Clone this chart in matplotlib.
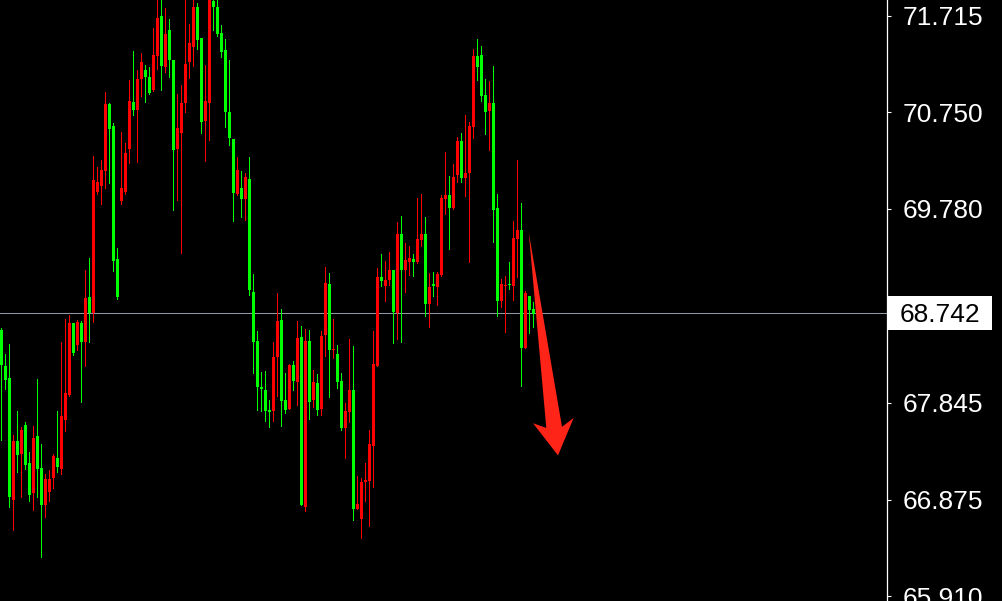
import matplotlib
matplotlib.use("Agg")
import matplotlib.pyplot as plt
from matplotlib.patches import Polygon, Rectangle
import numpy as np

opens = [68.22, 68.07, 66.90, 67.46, 67.32, 67.57, 67.22, 66.92, 67.49, 67.18,
         66.82, 67.08, 67.08, 67.31, 67.20, 67.71, 67.94, 68.64, 68.34, 68.65,
         68.45, 68.89, 68.74, 70.07, 70.05, 70.17, 70.83, 70.58, 69.26, 68.90,
         69.99, 70.34, 70.86, 70.77, 71.08, 71.25, 71.10, 70.94, 71.32, 71.69,
         71.21, 71.53, 71.27, 70.37, 70.59, 70.84, 71.23, 71.44, 71.80, 71.47,
         70.65, 70.86, 71.87, 71.80, 71.53, 71.35, 70.75, 70.49, 69.94, 70.17,
         69.88, 70.10, 68.97, 68.45, 68.00, 67.98, 67.76, 67.75, 68.30, 68.66,
         67.86, 67.77, 68.22, 68.06, 68.49, 66.82, 68.46, 67.85, 68.05, 67.77,
         68.51, 69.04, 68.37, 68.38, 68.05, 67.59, 67.76, 67.97, 66.78, 66.83,
         67.05, 67.07, 67.43, 68.23, 69.10, 69.06, 69.07, 69.17, 68.75, 69.53,
         69.17, 69.27, 69.29, 69.25, 69.48, 69.53, 68.83, 69.00, 69.01, 69.13,
         69.89, 69.92, 69.79, 70.10, 70.46, 70.09, 70.14, 70.61, 71.31, 71.20,
         70.91, 70.75, 70.84, 69.77, 68.86, 69.03, 69.02, 69.02, 69.49, 69.57,
         68.39, 68.94, 68.77, 68.73]

highs = [68.59, 68.33, 68.43, 67.52, 67.76, 67.60, 67.65, 67.35, 67.61, 68.08,
         67.43, 67.13, 67.17, 67.33, 67.76, 68.45, 68.68, 68.72, 68.64, 68.67,
         68.66, 69.17, 69.29, 70.31, 70.20, 70.27, 70.95, 70.84, 70.64, 69.39,
         70.55, 70.44, 71.07, 71.36, 71.17, 71.34, 71.22, 71.20, 71.59, 71.88,
         71.88, 71.79, 71.68, 71.27, 70.93, 71.02, 71.87, 71.63, 71.88, 71.84,
         71.49, 71.22, 71.89, 71.89, 71.87, 71.62, 71.48, 71.27, 70.48, 70.30,
         70.16, 70.14, 70.30, 69.13, 68.56, 68.15, 68.16, 67.87, 68.45, 68.94,
         68.78, 68.14, 68.23, 68.26, 68.66, 68.61, 68.58, 68.57, 68.17, 68.13,
         68.56, 69.20, 69.14, 68.68, 68.42, 68.14, 67.84, 68.48, 68.41, 67.11,
         67.09, 67.24, 67.57, 68.56, 69.19, 69.33, 69.26, 69.35, 69.17, 69.65,
         69.71, 69.44, 69.41, 69.33, 69.89, 69.93, 69.70, 69.14, 69.15, 69.15,
         69.92, 70.35, 70.11, 70.23, 70.50, 70.54, 70.72, 70.65, 71.38, 71.48,
         71.41, 71.08, 71.06, 71.21, 69.93, 69.08, 69.11, 69.25, 69.66, 70.27,
         69.84, 68.96, 68.91, 68.85]

lows = [67.47, 67.98, 66.80, 66.57, 67.15, 66.90, 67.18, 66.86, 66.77, 66.90,
        66.30, 66.70, 66.86, 66.99, 67.15, 67.13, 67.56, 67.91, 68.32, 68.37,
        67.85, 68.21, 68.45, 68.65, 69.93, 69.83, 69.99, 70.04, 69.16, 68.88,
        69.83, 69.93, 70.24, 70.72, 70.25, 70.91, 70.85, 70.93, 70.96, 71.18,
        70.97, 71.15, 71.10, 69.77, 69.87, 69.34, 70.75, 71.09, 71.21, 71.38,
        70.54, 70.26, 70.47, 71.57, 71.51, 71.30, 70.60, 70.42, 69.66, 69.92,
        69.70, 69.67, 68.92, 68.14, 67.77, 67.76, 67.66, 67.60, 67.66, 67.91,
        67.61, 67.74, 67.78, 67.97, 67.82, 66.82, 66.76, 67.68, 67.80, 67.72,
        67.72, 68.31, 67.90, 68.29, 67.99, 67.57, 67.29, 67.65, 66.67, 66.78,
        66.49, 66.86, 66.61, 67.00, 68.21, 69.01, 68.86, 69.02, 68.44, 68.48,
        68.45, 68.95, 69.12, 69.11, 69.24, 69.41, 68.71, 68.60, 68.91, 68.82,
        69.11, 69.73, 69.38, 69.78, 70.05, 70.05, 69.91, 69.25, 70.49, 71.07,
        70.86, 70.53, 70.37, 69.45, 68.71, 68.80, 68.55, 68.98, 68.87, 69.10,
        68.01, 68.39, 68.54, 68.60]

closes = [68.57, 68.21, 68.09, 66.87, 67.46, 67.33, 67.62, 67.24, 66.94, 67.51,
          67.19, 66.82, 66.95, 67.09, 67.29, 67.18, 67.67, 67.92, 68.64, 68.42,
          68.64, 68.45, 68.90, 68.74, 69.95, 70.01, 70.16, 70.83, 70.61, 69.28,
          69.86, 69.95, 70.38, 70.85, 70.77, 71.08, 71.17, 71.10, 70.97, 71.31,
          71.71, 71.20, 71.57, 71.27, 70.38, 70.54, 70.84, 71.25, 71.40, 71.80,
          71.49, 70.66, 70.84, 71.86, 71.80, 71.54, 71.37, 70.75, 70.48, 69.93,
          69.99, 69.88, 70.08, 68.95, 68.46, 68.00, 67.97, 67.77, 67.76, 68.30,
          68.67, 67.87, 67.78, 68.22, 68.05, 68.50, 66.80, 68.46, 67.87, 68.04,
          67.78, 68.52, 69.03, 68.37, 68.33, 68.06, 67.59, 67.75, 67.97, 66.78,
          66.68, 67.05, 67.06, 67.41, 68.21, 69.10, 69.01, 69.07, 69.17, 68.74,
          69.53, 69.17, 69.25, 69.28, 69.25, 69.47, 69.53, 68.83, 69.03, 69.00,
          69.12, 69.88, 69.92, 69.79, 70.12, 70.46, 70.09, 70.14, 70.60, 71.31,
          71.32, 70.92, 70.76, 70.84, 69.79, 68.86, 69.01, 69.03, 69.01, 69.48,
          69.57, 68.39, 68.91, 68.78]

price_ticks = [71.715, 70.750, 69.780, 67.845, 66.875, 65.910]
price_tick_labels = ["71.715", "70.750", "69.780", "67.845", "66.875", "65.910"]
current_price = 68.742
current_price_label = "68.742"

# decorative down arrow (x in bar index, y in price)
arrow_x = [131.8, 136.2, 132.875, 139.125, 143.05, 140.125]
arrow_y = [69.549, 67.591, 67.638, 67.316, 67.691, 67.602]

W, H = 1003, 601
AX_W = 887
fig = plt.figure(figsize=(W / 100, H / 100), dpi=100, facecolor="black")
ax = fig.add_axes([0, 0, AX_W / W, 1])
ax.set_facecolor("black")
ax.set_xlim(-0.375, (AX_W - 1.5) / 4)
ax.set_ylim(65.86, 71.87)

o = np.array(opens); h = np.array(highs); l = np.array(lows); c = np.array(closes)
x = np.arange(len(o))
up = c >= o
cols = np.where(up, "#00ff00", "#ff0000")

ax.vlines(x, l, h, colors=cols, linewidth=0.72, antialiased=False, zorder=2)
bottom = np.minimum(o, c)
height = np.maximum(np.abs(c - o), 0.012)
ax.bar(x, height, bottom=bottom, width=0.75, color=cols, linewidth=0,
       antialiased=False, zorder=3)

# current price line
ax.axhline(current_price, color="#8c99a6", linewidth=0.72, zorder=1)

# arrow
ax.add_patch(Polygon(list(zip(arrow_x, arrow_y)), closed=True,
                     facecolor="#ff2418", edgecolor="none", zorder=5))

for s in ["left", "top", "bottom"]:
    ax.spines[s].set_visible(False)
ax.spines["right"].set_color("white")
ax.spines["right"].set_linewidth(0.9)
ax.set_xticks([])
ax.yaxis.tick_right()
ax.set_yticks(price_ticks)
ax.set_yticklabels(price_tick_labels)
ax.tick_params(axis="y", colors="white", length=3, width=0.8, pad=8,
               labelsize=19, labelcolor="white")
for t in ax.get_yticklabels():
    t.set_fontfamily("Liberation Sans")

# current price box
tr = ax.get_yaxis_transform()
ax.add_patch(Rectangle((1.0012, current_price - 0.17), 104 / AX_W, 0.34,
                       transform=tr, facecolor="white", edgecolor="none",
                       clip_on=False, zorder=6))
ax.text(900 / AX_W, current_price, current_price_label, transform=tr,
        color="black", fontsize=19, family="Liberation Sans",
        va="center_baseline", ha="left", clip_on=False, zorder=7)

fig.savefig("out.png", dpi=100, facecolor="black")
